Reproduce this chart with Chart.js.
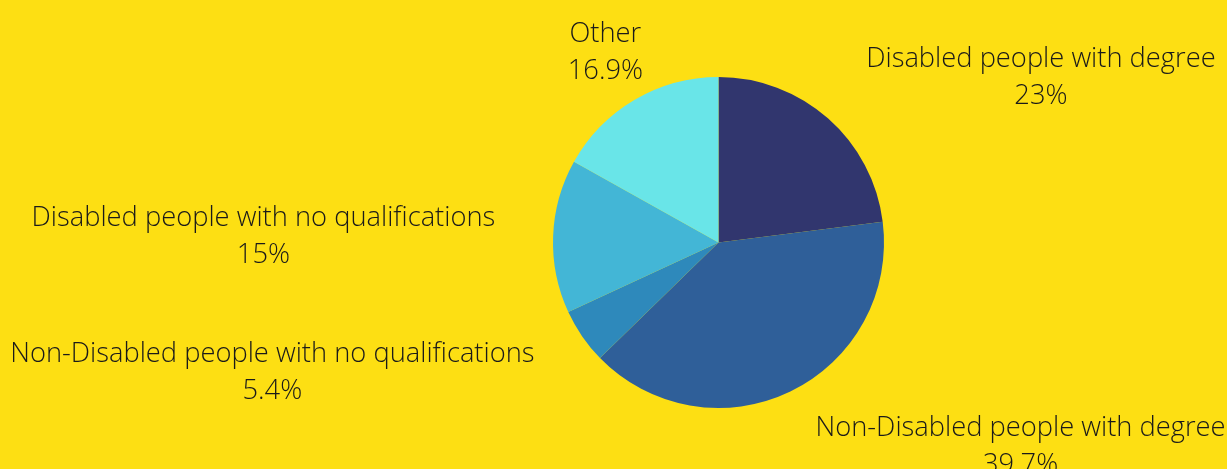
<!DOCTYPE html>
<html>
<head>
<meta charset="utf-8">
<script src="https://cdn.jsdelivr.net/npm/chart.js@4.4.0/dist/chart.umd.min.js"></script>
<style>
    html, body { margin: 0; padding: 0; background: #fddf13; }
    #wrap { width: 1227px; height: 469px; position: relative; }
</style>
</head>
<body>
<div id="wrap"><canvas id="pieChart"></canvas></div>
<script>
const categories = [
    'Disabled people with degree',
    'Non-Disabled people with degree',
    'Non-Disabled people with no qualifications',
    'Disabled people with no qualifications',
    'Other'
];
const shares = [23, 39.7, 5.4, 15, 16.9];
const shareLabels = ['23%', '39.7%', '5.4%', '15%', '16.9%'];
const sliceColors = ['#31366e', '#2f5f99', '#2e89bb', '#43b6d6', '#69e5e8'];

// how each label sits relative to its anchor point
const labelAlign = ['left', 'left', 'right', 'right', 'center'];

const outsideLabels = {
    id: 'outsideLabels',
    afterDatasetsDraw(chart) {
        const ctx = chart.ctx;
        const arcs = chart.getDatasetMeta(0).data;
        ctx.save();
        ctx.font = '300 27.3px "Open Sans"';
        ctx.fillStyle = '#1a1a1a';
        ctx.textBaseline = 'middle';
        ctx.textAlign = 'center';
        arcs.forEach((arc, i) => {
            const mid = (arc.startAngle + arc.endAngle) / 2;
            const r = arc.outerRadius * 1.35;
            let x = arc.x + Math.cos(mid) * r;
            const y = arc.y + Math.sin(mid) * r + 3;
            const w = ctx.measureText(categories[i]).width;
            if (labelAlign[i] === 'left') x += w / 2;
            if (labelAlign[i] === 'right') x -= w / 2;
            ctx.fillText(categories[i], x, y - 18.5);
            ctx.fillText(shareLabels[i], x, y + 18.5);
        });
        ctx.restore();
    }
};

const ctx = document.getElementById('pieChart').getContext('2d');
new Chart(ctx, {
    type: 'pie',
    data: {
        labels: categories,
        datasets: [{
            data: shares,
            backgroundColor: sliceColors,
            borderWidth: 0
        }]
    },
    options: {
        responsive: true,
        maintainAspectRatio: false,
        animation: false,
        layout: {
            padding: { top: 77, bottom: 61, left: 553, right: 343 }
        },
        plugins: {
            legend: { display: false },
            tooltip: { enabled: false }
        }
    },
    plugins: [outsideLabels]
});
</script>
</body>
</html>
